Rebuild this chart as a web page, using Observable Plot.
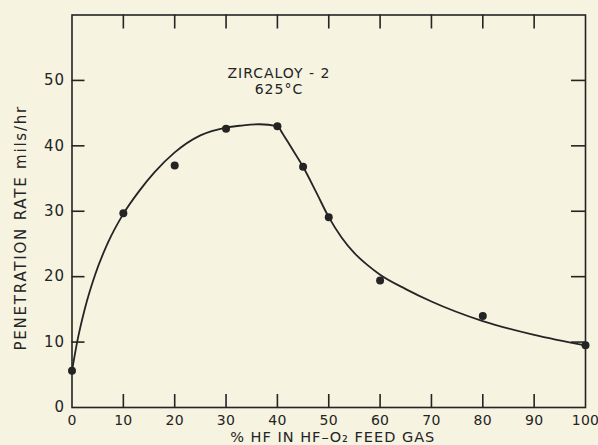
<!DOCTYPE html>
<html><head><meta charset="utf-8">
<script src="https://cdn.jsdelivr.net/npm/d3@7"></script>
<script src="https://cdn.jsdelivr.net/npm/@observablehq/plot@0.6"></script>
<style>
html,body{margin:0;padding:0;background:#f6f3e1;}
svg text{letter-spacing:1px;}
svg g[aria-label="x-axis tick label"] text{letter-spacing:0.3px;}
svg text[transform*="rotate"]{letter-spacing:1.8px;}
</style></head><body><div id="chart"></div>
<script>
// measured points
const hfPercent = [0, 10, 20, 30, 40, 45, 50, 60, 80, 100];
const penetrationRate = [5.6, 29.7, 37.0, 42.6, 43.0, 36.8, 29.1, 19.4, 14.0, 9.5];
// hand-drawn fitted curve
const curveX = [0, 1, 2.5, 4.5, 7, 10, 13, 16, 20, 25, 30, 33, 36.5, 40, 41, 42.5, 45, 47.5, 50, 52.5, 55, 57.5, 60, 65, 70, 80, 90, 100];
const curveY = [5.6, 10.0, 15.1, 20.3, 25.2, 29.6, 33.0, 35.9, 39.0, 41.6, 42.8, 43.1, 43.3, 43.0, 41.9, 40.0, 36.8, 33.0, 29.1, 26.0, 23.6, 21.8, 20.3, 18.1, 16.2, 13.2, 11.1, 9.5];
// ticks
const xTicks = [0, 10, 20, 30, 40, 50, 60, 70, 80, 90, 100];
const yTicks = [0, 10, 20, 30, 40, 50];
// texts
const xTitle = "% HF IN HF\u2013O\u2082 FEED GAS";
const yTitle = "PENETRATION RATE mils/hr";
const annotation = "ZIRCALOY - 2\n625\u00B0C";
const annX = 40.3, annY = 50;

const ink = "#242424";
const points = hfPercent.map((x, i) => ({x, y: penetrationRate[i]}));
const curve = curveX.map((x, i) => ({x, y: curveY[i]}));

const W = 598, H = 445, ML = 71.5, MR = 13, MT = 14.5, MB = 38;
const fw = W - ML - MR, fh = H - MT - MB;

const chart = Plot.plot({
  width: W, height: H,
  marginLeft: ML, marginRight: MR, marginTop: MT, marginBottom: MB,
  style: {background: "transparent", fontFamily: "DejaVu Sans, sans-serif", fontSize: "14px", color: ink},
  x: {domain: [0, 100]},
  y: {domain: [0, 60]},
  marks: [
    Plot.frame({stroke: ink, strokeWidth: 1.6}),
    // inward tick marks
    Plot.ruleX(xTicks.slice(1, -1), {x: d => d, insetTop: fh - 13, stroke: ink, strokeWidth: 1.6}),
    Plot.ruleX(xTicks.slice(1, -1), {x: d => d, insetBottom: fh - 14, stroke: ink, strokeWidth: 1.6}),
    Plot.ruleY(yTicks.slice(1), {y: d => d, insetRight: fw - 13, stroke: ink, strokeWidth: 1.6}),
    Plot.ruleY(yTicks.slice(1), {y: d => d, insetLeft: fw - 14, stroke: ink, strokeWidth: 1.6}),
    Plot.axisX(xTicks, {anchor: "bottom", tickSize: 0, tickPadding: 8, label: null, fontSize: 14}),
    Plot.axisY(yTicks, {anchor: "left", tickSize: 0, tickPadding: 7, label: null, fontSize: 15}),
    Plot.line(curve, {x: "x", y: "y", curve: "monotone-x", stroke: ink, strokeWidth: 1.8}),
    Plot.dot(points, {x: "x", y: "y", r: 4, fill: ink, stroke: null}),
    Plot.text([annotation], {x: annX, y: annY, text: d => d, lineAnchor: "middle", lineHeight: 1.15, fontSize: 14, fill: ink}),
    Plot.text([xTitle], {frameAnchor: "bottom", textAnchor: "middle", dx: 4, dy: 29.5, text: d => d, lineAnchor: "middle", fontSize: 14.5, fill: ink}),
    Plot.text([yTitle], {frameAnchor: "left", textAnchor: "middle", rotate: -90, dx: -50.5, dy: 16.5, text: d => d, lineAnchor: "middle", fontSize: 15, fill: ink})
  ]
});
document.getElementById("chart").append(chart);
</script></body></html>
